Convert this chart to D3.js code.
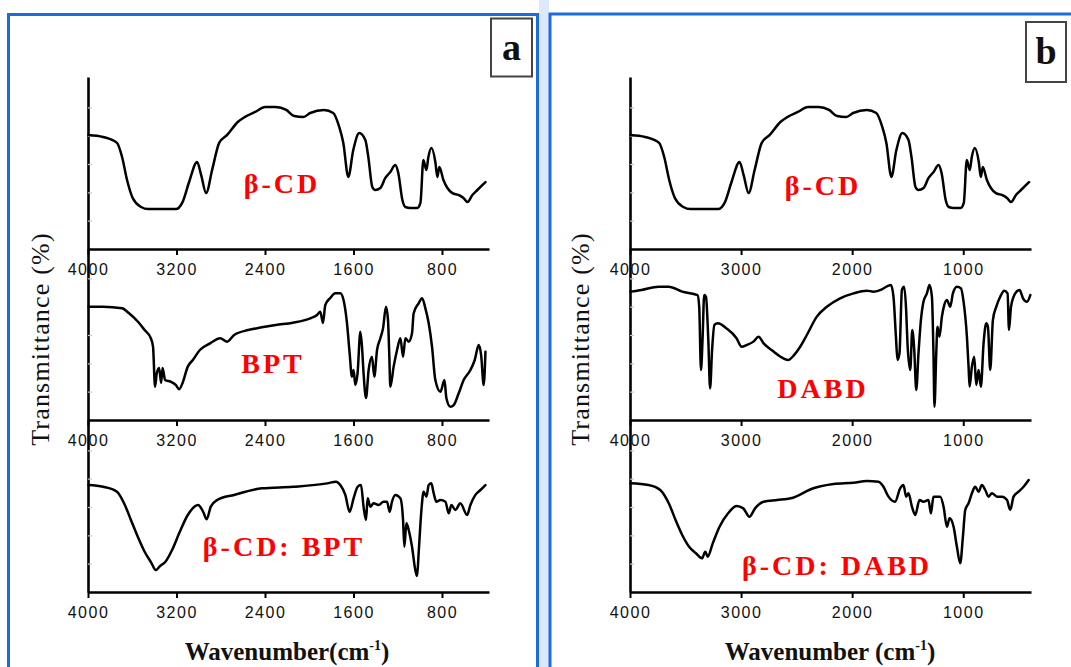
<!DOCTYPE html>
<html><head><meta charset="utf-8">
<script src="https://cdn.jsdelivr.net/npm/d3@7"></script>
<style>body{margin:0;background:#fff}svg{display:block}</style>
</head><body><svg id="c" width="1071" height="667"></svg>
<script>
// ---------- data (wavenumber cm-1, transmittance in arbitrary % of the sub-plot height) ----------
const betaCD_wn = [3995,3864,3738,3692,3647,3596,3520,3457,3207,3145,3086,3014,2977,2932,2878,2814,2742,2646,2584,2489,2398,2303,2208,2136,2054,1991,1867,1783,1729,1692,1647,1602,1548,1493,1466,1430,1403,1357,1312,1267,1222,1195,1158,1131,1086,1023,995,968,941,923,896,860,842,824,787,751,706,652,606,570,525,480,407];
const betaCD_T  = [67.1,65.9,62.4,54.1,40.6,30.0,24.7,23.5,23.5,27.6,39.4,51.2,43.5,32.9,46.5,62.4,67.1,74.7,77.6,80.6,83.5,83.5,81.8,78.2,77.6,80.0,81.8,80.0,71.8,62.4,42.4,58.2,68.2,64.1,54.1,36.5,34.7,35.9,41.8,45.3,49.4,44.7,28.8,24.7,24.1,24.1,27.1,52.4,46.5,54.1,59.4,51.2,42.4,48.2,40.6,35.9,32.9,31.8,30.0,27.6,31.8,34.7,39.4];

const bpt_wn = [3995,3864,3692,3629,3548,3488,3432,3412,3394,3378,3357,3339,3326,3303,3253,3207,3176,3145,3098,3052,2989,2896,2805,2742,2679,2552,2428,2303,2148,1991,1929,1900,1876,1855,1810,1765,1719,1690,1659,1635,1614,1599,1584,1563,1538,1523,1509,1487,1463,1433,1412,1387,1357,1333,1306,1288,1276,1267,1237,1206,1176,1152,1131,1101,1071,1056,1011,980,950,920,890,860,814,778,760,724,694,649,604,543,504,468,446,423,407];
const bpt_T  = [66.6,66.6,65.7,62.8,57.8,52.9,48.1,43.1,19.6,27.6,30.6,21.8,30.6,23.5,22.5,20.6,18.1,21.8,31.4,35.3,41.2,45.1,48.1,46.1,50.0,52.9,54.5,55.9,57.2,59.8,61.8,63.7,57.1,67.6,71.8,74.5,74.5,70.6,57.1,39.4,25.5,29.4,20.6,27.6,51.9,43.1,27.6,12.9,29.4,37.2,25.5,41.2,48.1,53.9,66.6,58.8,37.2,19.6,31.4,41.2,48.1,37.2,48.1,46.1,51.0,62.8,68.6,71.6,65.7,56.9,43.1,23.5,16.6,23.5,12.8,7.8,8.8,15.7,23.5,29.4,35.3,44.1,38.2,20.6,40.2];

const cdBpt_wn = [3995,3864,3738,3674,3612,3550,3488,3425,3388,3348,3300,3240,3176,3098,3005,2959,2927,2890,2833,2679,2428,2148,1837,1758,1719,1674,1635,1599,1563,1532,1509,1487,1472,1448,1418,1373,1328,1297,1273,1252,1222,1176,1152,1140,1122,1101,1071,1041,1025,1011,986,966,941,920,896,875,851,814,769,739,715,679,634,573,543,498,452,407];
const cdBpt_T  = [62.9,61.9,59.0,52.2,42.4,32.5,23.7,16.9,12.9,15.3,17.8,24.7,34.5,45.3,51.2,47.2,42.8,50.2,54.1,57.1,61.0,61.9,63.9,64.9,62.9,57.1,47.2,55.1,61.9,62.9,50.2,42.4,55.1,50.2,52.2,51.2,53.1,53.1,47.2,53.1,57.1,55.1,42.4,26.6,40.4,36.5,26.6,12.9,9.4,22.8,48.2,59.0,56.1,62.9,63.9,58.1,53.1,54.1,53.1,46.3,51.2,48.2,52.2,45.3,51.2,57.1,60.0,62.9];

const dabd_wn = [3995,3895,3743,3651,3530,3392,3377,3361,3347,3332,3316,3295,3279,3261,3240,3209,3132,3041,2995,2950,2889,2843,2797,2705,2645,2577,2523,2468,2408,2318,2228,2108,1988,1868,1808,1732,1682,1651,1628,1606,1592,1574,1552,1532,1514,1502,1477,1459,1441,1423,1403,1381,1358,1327,1304,1282,1268,1259,1243,1232,1214,1192,1171,1147,1117,1093,1057,1021,997,967,952,943,922,901,883,862,841,817,793,778,757,733,703,667,631,601,588,570,532,493,462,426,396];
const dabd_T  = [75.5,76.5,78.4,78.4,75.5,73.5,66.6,29.4,47.1,73.5,72.5,47.1,18.6,41.2,55.9,56.9,53.9,48.1,43.1,44.1,46.1,49.0,45.1,40.2,37.2,35.3,38.2,43.1,50.0,60.8,66.6,71.6,74.5,76.1,75.5,76.9,78.8,79.4,72.5,49.0,35.3,39.2,76.5,78.4,64.7,45.1,29.4,52.9,41.2,17.6,39.2,58.8,69.6,74.5,79.4,72.5,39.2,7.8,39.2,54.9,49.0,60.8,67.6,70.6,66.6,74.5,78.4,77.5,69.6,49.0,31.4,19.6,31.4,37.2,20.6,29.4,19.6,45.1,56.9,54.9,29.4,58.8,66.6,72.5,76.1,74.5,52.9,66.6,74.5,76.5,71.6,69.6,73.5];

const cdDabd_wn = [3995,3834,3728,3651,3590,3530,3468,3407,3352,3322,3301,3255,3194,3117,3041,2980,2925,2874,2797,2676,2553,2349,2168,1988,1868,1763,1718,1673,1613,1568,1538,1514,1493,1462,1432,1394,1358,1313,1291,1268,1207,1177,1147,1123,1087,1057,1027,1003,982,952,922,892,862,832,802,772,742,696,651,606,577,547,502,457,411];
const cdDabd_T  = [63.9,62.9,60.0,52.2,42.4,33.5,26.6,22.8,19.8,23.7,20.8,28.6,38.4,46.3,50.6,49.2,44.3,49.2,53.1,54.1,55.1,61.0,63.5,64.3,65.3,64.9,61.9,56.1,53.1,61.0,62.9,56.1,58.1,50.2,45.3,54.1,53.1,54.1,46.3,56.1,56.1,50.2,38.4,43.4,38.4,26.6,16.9,32.5,48.2,52.2,58.1,61.9,59.0,62.9,60.0,56.1,58.1,56.1,56.1,54.1,48.2,56.1,59.0,61.9,65.9];

const ticksA = [4000, 3200, 2400, 1600, 800];
const ticksB = [4000, 3000, 2000, 1000];
const namesA = ["β-CD", "BPT", "β-CD: BPT"];
const namesB = ["β-CD", "DABD", "β-CD: DABD"];
const yTitle = "Transmittance (%)";

// ---------- layout ----------
const svg = d3.select('#c');
const BLUE = '#1c6ce0';
svg.append('rect').attr('x', 539).attr('y', 0).attr('width', 10).attr('height', 667).attr('fill', '#dde9fb');
svg.append('rect').attr('x', 8.5).attr('y', 14.5).attr('width', 529).attr('height', 700)
  .attr('fill', '#fff').attr('stroke', BLUE).attr('stroke-width', 3);
svg.append('rect').attr('x', 550).attr('y', 14).attr('width', 600).attr('height', 700)
  .attr('fill', '#fff').attr('stroke', BLUE).attr('stroke-width', 3);

const bottoms = [249, 420, 592];
const subH = 170;
const zip = (w, t) => w.map((d, i) => ({wn: d, t: t[i]}));

const panels = [
  {letter: 'a', range: [88, 489], domain: [4000, 375], ticks: ticksA,
   series: [zip(betaCD_wn, betaCD_T), zip(bpt_wn, bpt_T), zip(cdBpt_wn, cdBpt_T)],
   names: namesA, namePos: [[282, 193], [273, 373], [284, 556]],
   ylab: 40, xlab: [287, 660, 'Wavenumber(cm'], box: [491, 18.5, 41, 58]},
  {letter: 'b', range: [630, 1031], domain: [4000, 390], ticks: ticksB,
   series: [zip(betaCD_wn, betaCD_T), zip(dabd_wn, dabd_T), zip(cdDabd_wn, cdDabd_T)],
   names: namesB, namePos: [[823, 195], [823, 398], [837, 575]],
   ylab: 580, xlab: [830, 660, 'Wavenumber (cm'], box: [1026, 22, 40, 60]}
];

panels.forEach(p => {
  const g = svg.append('g');
  const x = d3.scaleLinear().domain(p.domain).range(p.range);

  // vertical axis line spanning all three stacked plots
  const yAll = d3.scaleLinear().domain([0, 1]).range([bottoms[2], bottoms[0] - 172]);
  g.append('g').attr('transform', `translate(${p.range[0]},0)`)
    .call(d3.axisLeft(yAll).tickValues([]).tickSizeOuter(0))
    .call(s => s.select('.domain').attr('stroke', '#000').attr('stroke-width', 2.6));

  bottoms.forEach((b, i) => {
    const y = d3.scaleLinear().domain([0, 100]).range([b, b - subH]);
    // faint minor ticks on y
    g.append('g').attr('transform', `translate(${p.range[0]},0)`)
      .call(d3.axisRight(y).tickValues([16.7, 33.3, 50, 66.7, 83.3]).tickSize(4).tickFormat(''))
      .call(s => { s.select('.domain').remove(); s.selectAll('line').attr('stroke', '#c8c8c8').attr('stroke-width', 1.2); });

    // x axis
    const ax = g.append('g').attr('transform', `translate(0,${b})`)
      .call(d3.axisBottom(x).tickValues(p.ticks).tickSize(6).tickSizeOuter(0).tickFormat(d3.format('d')));
    ax.select('.domain').attr('stroke', '#000').attr('stroke-width', 2.6);
    ax.selectAll('.tick line').attr('stroke', '#000').attr('stroke-width', 2);
    ax.selectAll('.tick text').attr('y', 15).attr('fill', '#111')
      .style('font-family', '"Liberation Sans", Arial, sans-serif').style('font-size', '16px')
      .style('letter-spacing', '1.5px');

    // spectrum
    const line = d3.line().x(d => x(d.wn)).y(d => y(d.t)).curve(d3.curveMonotoneX);
    g.append('path').datum(p.series[i]).attr('d', line)
      .attr('fill', 'none').attr('stroke', '#000').attr('stroke-width', 2.5)
      .attr('stroke-linejoin', 'round').attr('stroke-linecap', 'round');

    // red name
    g.append('text').attr('x', p.namePos[i][0]).attr('y', p.namePos[i][1])
      .attr('text-anchor', 'middle').attr('fill', '#ff0000')
      .style('font-family', '"Liberation Serif", "Times New Roman", serif')
      .style('font-weight', 'bold').style('font-size', '28px').style('letter-spacing', '3px')
      .text(p.names[i]);
  });

  // y title
  g.append('text').attr('transform', `translate(${p.ylab},339) rotate(-90)`)
    .attr('text-anchor', 'middle').attr('dominant-baseline', 'central').attr('fill', '#111')
    .style('font-family', '"Liberation Serif", "Times New Roman", serif')
    .style('font-size', '26px').style('letter-spacing', '1.2px').text(yTitle);

  // x title
  const xt = g.append('text').attr('x', p.xlab[0]).attr('y', p.xlab[1]).attr('text-anchor', 'middle')
    .attr('fill', '#111')
    .style('font-family', '"Liberation Serif", "Times New Roman", serif')
    .style('font-weight', 'bold').style('font-size', '25px');
  xt.append('tspan').text(p.xlab[2]);
  xt.append('tspan').attr('dy', -10).style('font-size', '14px').text('-1');
  xt.append('tspan').attr('dy', 10).text(')');

  // panel letter box
  g.append('rect').attr('x', p.box[0]).attr('y', p.box[1]).attr('width', p.box[2]).attr('height', p.box[3])
    .attr('fill', '#fff').attr('stroke', '#444').attr('stroke-width', 2);
  g.append('text').attr('x', p.box[0] + p.box[2] / 2).attr('y', p.box[1] + p.box[3] / 2 + 12)
    .attr('text-anchor', 'middle').attr('fill', '#111')
    .style('font-family', '"Liberation Serif", "Times New Roman", serif')
    .style('font-weight', 'bold').style('font-size', '38px').text(p.letter);
});
</script></body></html>
